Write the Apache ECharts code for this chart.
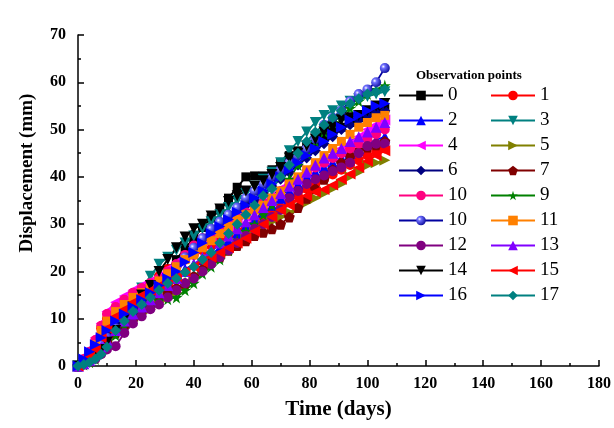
<!DOCTYPE html>
<html>
<head>
<meta charset="utf-8">
<script src="https://cdn.jsdelivr.net/npm/echarts@6/dist/echarts.min.js"></script>
<style>
  html, body { margin: 0; padding: 0; background: #fff; }
  #chart { width: 614px; height: 428px; }
</style>
</head>
<body>
<div id="chart"></div>
<script>
// observation times (days)
const days = [0, 2, 4, 6, 8, 10, 13, 16, 19, 22, 25, 28, 31, 34, 37, 40, 43, 46, 49, 52, 55, 58, 61, 64, 67, 70, 73, 76, 79, 82, 85, 88, 91, 94, 97, 100, 103, 106]

// displacement (mm) per observation point
const p0 = [0, 1.2, 1.8, 3, 4.5, 6, 8, 10.5, 12.5, 14.5, 16.5, 18.5, 20.5, 22.5, 25, 27, 29.3, 31.3, 33, 35.5, 37.8, 40, 40.2, 40.2, 41.5, 43, 44.5, 45.5, 46.5, 47.5, 48.5, 49.5, 50.5, 51.5, 52.5, 53.5, 54, 54.5]
const p1 = [0, 1, 2.5, 4.5, 8, 10, 12, 13.5, 15, 16.3, 17.5, 19, 20.5, 21.5, 22.5, 23.5, 24.5, 25.5, 26.5, 27.5, 28.5, 29.5, 30.5, 31.5, 32.5, 33.5, 35, 36, 37.5, 38.5, 39.5, 40.5, 41.5, 42.5, 43.5, 44.5, 45.3, 46]
const p2 = [0, 1.5, 3, 4.5, 6.5, 8, 10, 11.5, 13, 14.5, 15.5, 17, 18, 19.5, 20.5, 21.5, 22.5, 23.5, 25, 26.5, 28, 29.5, 31, 32.5, 34, 35.5, 37, 38.5, 40, 41, 42, 43, 44, 45, 46, 47, 47.8, 48.5]
const p3 = [0, 0.5, 1, 2.5, 4.5, 6.5, 9, 11.5, 14, 16.5, 19, 21.5, 23, 24.5, 26, 27.5, 29, 30.5, 32, 33.5, 35, 36.5, 38, 39.5, 41, 43, 45.5, 47.5, 49.5, 51.5, 53, 54, 55, 56, 56.5, 57, 57.5, 58]
const p4 = [0, 1.5, 3.5, 6, 9, 11.5, 13.5, 14.8, 16, 17, 18, 19, 20.5, 22, 23.5, 25, 26.5, 27.5, 28.5, 29.5, 30.5, 31.5, 33, 34.5, 36, 37.5, 39, 40, 41.5, 42.5, 43.5, 44.5, 46, 47, 48.5, 50, 51, 52]
const p5 = [0, 0.3, 0.8, 1.5, 3, 4.5, 6.5, 8, 9.5, 11, 12, 13.5, 14.5, 15.5, 17, 18.5, 20, 21.5, 23, 24.5, 26, 27.5, 28.5, 29.5, 30.5, 31.5, 32.5, 33.5, 34.5, 35.5, 36.5, 37.5, 38.5, 40, 41, 42.4, 43, 43.5]
const p6 = [0, 1, 2, 3.5, 5, 7, 9, 11, 12.5, 14, 16, 18, 19.5, 21.5, 23.5, 25.5, 27, 28.5, 30, 31.5, 33, 34, 35, 36.5, 38, 39.5, 41, 42.5, 44, 45.5, 47, 48.5, 50, 51, 52, 53, 53.5, 54]
const p7 = [0, 0.5, 1, 2, 3.5, 5, 7, 8.5, 10, 11.5, 13, 14.5, 15.5, 16.5, 17.5, 19, 20.5, 22, 23, 24.5, 25.5, 26.5, 27.6, 28.3, 29, 30, 31.5, 33.5, 35.5, 37.5, 39.5, 41.5, 43, 44.5, 45.5, 46.3, 46.8, 47.5]
const p8 = [0, 1.5, 3, 5.5, 8.5, 11, 12.5, 14, 15.5, 16.5, 17.5, 18.5, 20, 21.5, 23.5, 25.5, 27, 28, 29.5, 30.5, 31.5, 32.5, 33.5, 34.5, 35.5, 37, 38.5, 39.5, 41, 42, 43, 44, 45, 46, 47, 48, 49, 50]
const p9 = [0, 0.3, 0.8, 1.5, 3, 4.5, 6.5, 8.5, 10, 11.5, 12.5, 13.8, 14.1, 14.5, 16, 17.5, 19.5, 21, 22.5, 24.5, 26.5, 28.5, 30, 32, 34, 36.5, 39.5, 42.5, 45, 47.5, 49.5, 51.5, 53, 54.5, 56, 57.5, 58.5, 59.3]
const p10 = [0, 0.8, 1.5, 3, 4.5, 6, 8, 10, 11.5, 13, 15, 17, 19, 21, 23, 25, 27, 29, 30.5, 32, 33.5, 35.5, 37, 38.5, 40, 41.5, 43, 44.5, 46, 48, 51, 52.5, 54, 56, 57.5, 58.5, 60, 63]
const p11 = [0, 1, 2.5, 4.5, 7.5, 9.5, 11.5, 13, 14.5, 15.5, 16.5, 18, 19.5, 21, 22.5, 23.5, 25, 26.5, 28, 29.5, 31, 32, 33, 34, 35.5, 37, 38.5, 40, 41.5, 43, 44.5, 46, 47.5, 49, 50.5, 51.5, 52.5, 53]
const p12 = [0, 0.3, 0.8, 1.5, 2.5, 3.5, 4.2, 7, 9, 10.5, 12, 13, 14.5, 16, 17.5, 18.5, 20, 21.5, 23, 24.5, 26, 27.5, 29, 30, 31.5, 33, 35.5, 37, 38.5, 39.5, 40.3, 41.2, 42, 43, 45, 46.5, 47, 47]
const p13 = [0, 0.5, 1.2, 2.5, 4, 5.5, 7.5, 9.5, 11, 12.5, 14, 15.5, 17, 18.5, 20, 21.5, 23, 24.5, 26, 27.5, 29, 30.5, 32, 33.5, 35, 36.5, 38, 39.5, 41, 42.5, 44, 45, 46, 47.5, 48.5, 49.5, 50.5, 51.5]
const p14 = [0, 0.5, 1, 2, 3.5, 5, 7.5, 10, 12.5, 15, 17, 20, 22.5, 25, 27.3, 29, 30, 31.7, 33.2, 34.8, 36, 37, 38, 39.2, 40.5, 42, 44, 45, 46.5, 48, 49.5, 50.5, 52, 52.5, 53, 54, 55, 55.5]
const p15 = [0, 1, 2, 3.5, 6, 8, 10.5, 12, 13.5, 15, 16, 17, 18, 19, 20, 21, 22, 23, 24, 25, 26, 27, 28.5, 30, 31.5, 33, 34, 35, 36, 36.8, 37.3, 38.3, 39.5, 40.6, 42, 43.3, 44.5, 45.5]
const p16 = [0, 1.5, 3, 4.5, 6, 7.5, 9.5, 11, 12.5, 14, 15.5, 17, 18.5, 20, 22, 24, 26, 28, 29.5, 31, 32.5, 34, 35.5, 37, 38.5, 40, 41.5, 43, 44.5, 46, 47.5, 49, 50.5, 52, 53, 54, 55, 55.5]
const p17 = [0, 0.3, 0.8, 1.5, 2.5, 4, 7.5, 9.5, 11.5, 13, 14.5, 16, 17.5, 18.5, 19.8, 21, 22.5, 24, 26, 28, 30, 32, 34, 36, 37.5, 40, 42.5, 45, 47.5, 49.5, 51, 52.5, 54, 55.5, 56.5, 57.5, 58, 58.5]

const pointValues = [p0, p1, p2, p3, p4, p5, p6, p7, p8, p9, p10, p11, p12, p13, p14, p15, p16, p17]
// legend text as printed in the figure (point 8 is labelled "10" there)
const pointLabels = ['0', '1', '2', '3', '4', '5', '6', '7', '10', '9', '10', '11', '12', '13', '14', '15', '16', '17']

const STAR = 'path://M50,0 L61,35 L98,35 L68,57 L79,91 L50,70 L21,91 L32,57 L2,35 L39,35 Z'
const PENTAGON = 'path://M50,0 L98,35 L79,91 L21,91 L2,35 Z'
const sphere = {
  type: 'radial', x: 0.35, y: 0.35, r: 0.75,
  colorStops: [
    { offset: 0, color: '#ffffff' },
    { offset: 0.25, color: '#7070ff' },
    { offset: 1, color: '#000090' }
  ]
}

// colour, symbol, rotation, size for each point
const styles = [
  ['#000000', 'rect', 0, 9],
  ['#ff0000', 'circle', 0, 10],
  ['#0000ff', 'triangle', 0, 11],
  ['#008080', 'triangle', 180, 11],
  ['#ff00ff', 'triangle', 90, 11],
  ['#808000', 'triangle', -90, 11],
  ['#000080', 'diamond', 0, 11],
  ['#800000', PENTAGON, 0, 11],
  ['#ff0080', 'circle', 0, 10],
  ['#008000', STAR, 0, 12],
  ['#0000a0', 'circle', 0, 10],
  ['#ff8000', 'rect', 0, 9],
  ['#800080', 'circle', 0, 10],
  ['#8000ff', 'triangle', 0, 11],
  ['#000000', 'triangle', 180, 11],
  ['#ff0000', 'triangle', 90, 11],
  ['#0000ff', 'triangle', -90, 11],
  ['#008080', 'diamond', 0, 11]
]

const serif = '"Liberation Serif", "Times New Roman", serif'

const series = pointValues.map((vals, i) => {
  const [color, symbol, rot, size] = styles[i]
  return {
    name: String(i),
    type: 'line',
    data: days.map((d, k) => [d, vals[k]]),
    symbol: symbol,
    symbolRotate: rot,
    symbolSize: size,
    showAllSymbol: true,
    lineStyle: { color: color, width: 1.8 },
    itemStyle: { color: i === 10 ? sphere : color, borderWidth: 0 },
    emphasis: { disabled: true },
    z: 2
  }
})

const legendCommon = {
  orient: 'vertical',
  itemWidth: 44,
  itemHeight: 12,
  itemGap: 6,
  padding: 0,
  selectedMode: false,
  formatter: name => pointLabels[Number(name)],
  textStyle: { fontFamily: serif, fontSize: 19, lineHeight: 19, color: '#000', padding: [0, 0, 0, 0] }
}

const chart = echarts.init(document.getElementById('chart'))
chart.setOption({
  animation: false,
  backgroundColor: '#fff',
  title: {
    text: 'Observation points',
    left: 416,
    top: 69,
    padding: 0,
    textStyle: { fontFamily: serif, fontSize: 13, fontWeight: 'bold', color: '#000' }
  },
  legend: [
    Object.assign({}, legendCommon, {
      left: 398, top: 86,
      data: ['0', '2', '4', '6', '8', '10', '12', '14', '16']
    }),
    Object.assign({}, legendCommon, {
      left: 490, top: 86,
      data: ['1', '3', '5', '7', '9', '11', '13', '15', '17']
    })
  ],
  grid: { left: 78, right: 15, top: 35, bottom: 62, containLabel: false },
  xAxis: {
    type: 'value',
    min: 0, max: 180, interval: 20,
    name: 'Time (days)',
    nameLocation: 'middle',
    nameGap: 33,
    nameTextStyle: { fontFamily: serif, fontSize: 21, fontWeight: 'bold', color: '#000' },
    axisLine: { lineStyle: { color: '#000', width: 1.5 } },
    axisTick: { inside: true, length: 6, lineStyle: { color: '#000', width: 1.5 } },
    minorTick: { show: true, splitNumber: 2, length: 3, lineStyle: { color: '#000', width: 1.5 } },
    axisLabel: { fontFamily: serif, fontSize: 16, fontWeight: 'bold', color: '#000', margin: 10 },
    splitLine: { show: false }
  },
  yAxis: {
    type: 'value',
    min: 0, max: 70, interval: 10,
    name: 'Displacement (mm)',
    nameLocation: 'middle',
    nameGap: 41,
    nameRotate: 90,
    nameTextStyle: { fontFamily: serif, fontSize: 19, fontWeight: 'bold', color: '#000', padding: [0, 0, 0, 55] },
    axisLine: { show: true, lineStyle: { color: '#000', width: 1.5 } },
    axisTick: { show: true, inside: true, length: 6, lineStyle: { color: '#000', width: 1.5 } },
    minorTick: { show: true, splitNumber: 2, length: 3, lineStyle: { color: '#000', width: 1.5 } },
    axisLabel: { fontFamily: serif, fontSize: 16, fontWeight: 'bold', color: '#000', margin: 12 },
    splitLine: { show: false }
  },
  series: series
})
</script>
</body>
</html>
